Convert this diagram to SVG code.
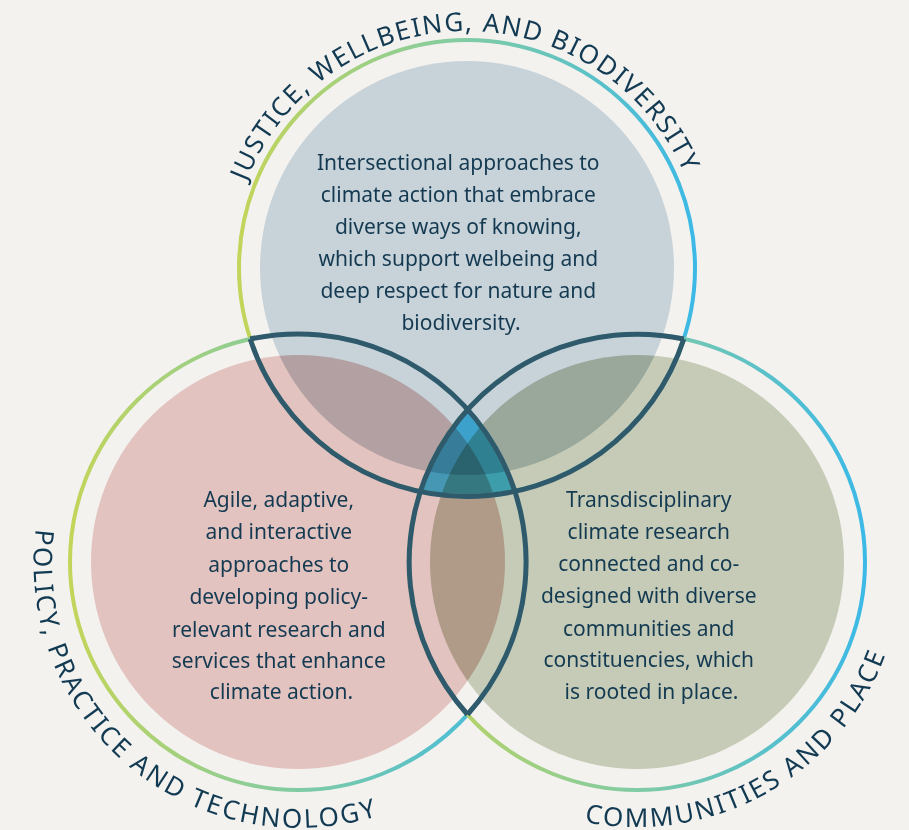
<svg xmlns="http://www.w3.org/2000/svg" width="909" height="830" viewBox="0 0 909 830">
<defs>
<linearGradient id="ring" x1="0" y1="0" x2="1" y2="0">
<stop offset="0" stop-color="#c3d55a"/>
<stop offset="0.5" stop-color="#80cba4"/>
<stop offset="1" stop-color="#3cb9e6"/>
</linearGradient>
<path id="pTop" d="M263.8,390.1 A237,237 0 1 1 674.3,382.9"/>
<path id="pLeft" d="M210.2,313.1 A265,265 0 1 0 560.2,605.2"/>
<path id="pRight" d="M372.2,560.1 A265,265 0 1 0 774.1,335.2"/>
</defs>
<style>
.ring{fill:none;stroke:url(#ring);stroke-width:4}
.fill{mix-blend-mode:multiply}
.outline{fill:none;stroke:#2e5a6c;stroke-width:5;stroke-linejoin:round}
.title{font-family:"Noto Sans","Open Sans",sans-serif;font-size:26px;letter-spacing:1.6px;fill:#123a52}
.wide{letter-spacing:2.3px}
.body{font-family:"Noto Sans","Open Sans",sans-serif;font-size:21px;fill:#143a52;text-anchor:middle}
</style>
<rect width="909" height="830" fill="#f3f2ef"/>
<g id="fills" style="isolation:isolate">
<circle class="fill" cx="467" cy="268" r="207" fill="#c8d2d9"/>
<circle class="fill" cx="298" cy="562" r="207" fill="#e3c3bf"/>
<circle class="fill" cx="637" cy="562" r="207" fill="#c5cbb6"/>
<path class="fill" d="M467.5,409.5 A228,228 0 0 1 515,491 A228,228 0 0 1 419,491 A228,228 0 0 1 467.5,409.5 Z" fill="#4ec5ef"/>
</g>
<g id="justice">
<circle class="ring" cx="467" cy="268" r="228"/>
<text class="title"><textPath href="#pTop" startOffset="50%" text-anchor="middle">JUSTICE, WELLBEING, AND BIODIVERSITY</textPath></text>
<text class="body">
<tspan x="461" y="170">Intersectional approaches to</tspan>
<tspan x="461" y="202">climate action that embrace</tspan>
<tspan x="461" y="234">diverse ways of knowing,</tspan>
<tspan x="461" y="266">which support welbeing and</tspan>
<tspan x="461" y="298">deep respect for nature and</tspan>
<tspan x="461" y="330">biodiversity.</tspan>
</text>
</g>
<g id="policy">
<circle class="ring" cx="298" cy="562" r="228"/>
<text class="title wide"><textPath href="#pLeft" startOffset="50%" text-anchor="middle">POLICY, PRACTICE AND TECHNOLOGY</textPath></text>
<text class="body">
<tspan x="281.5" y="507">Agile, adaptive,</tspan>
<tspan x="281.5" y="539">and interactive</tspan>
<tspan x="281.5" y="572">approaches to</tspan>
<tspan x="281.5" y="604">developing policy-</tspan>
<tspan x="281.5" y="637">relevant research and</tspan>
<tspan x="281.5" y="668">services that enhance</tspan>
<tspan x="281.5" y="699">climate action.</tspan>
</text>
</g>
<g id="communities">
<circle class="ring" cx="637" cy="562" r="228"/>
<text class="title wide"><textPath href="#pRight" startOffset="50%" text-anchor="middle">COMMUNITIES AND PLACE</textPath></text>
<text class="body">
<tspan x="651.5" y="507">Transdisciplinary</tspan>
<tspan x="651.5" y="539">climate research</tspan>
<tspan x="651.5" y="571">connected and co-</tspan>
<tspan x="651.5" y="603">designed with diverse</tspan>
<tspan x="651.5" y="636">communities and</tspan>
<tspan x="651.5" y="667">constituencies, which</tspan>
<tspan x="651.5" y="699">is rooted in place.</tspan>
</text>
</g>
<g id="connectors">
<path class="outline" d="M250.2,339 A228,228 0 0 0 683.8,339"/>
<path class="outline" d="M250.2,339 A228,228 0 0 1 467.5,714.5"/>
<path class="outline" d="M683.8,339 A228,228 0 0 0 467.5,714.5"/>
</g>
</svg>
